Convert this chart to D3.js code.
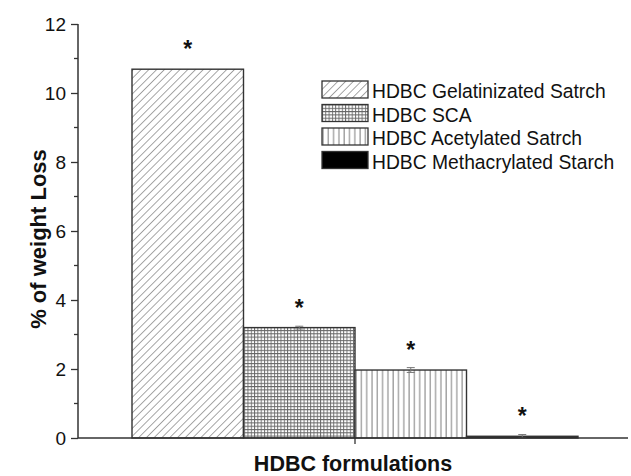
<!DOCTYPE html>
<html>
<head>
<meta charset="utf-8">
<script src="https://cdn.jsdelivr.net/npm/d3@7"></script>
<style>
  html, body { margin: 0; padding: 0; background: #fff; }
  svg { display: block; font-family: "Liberation Sans", Arial, sans-serif; }
</style>
</head>
<body>
<svg id="chart" width="631" height="476"></svg>
<script>
// Weight-loss results for the four HDBC formulations
const categories = [
  "HDBC Gelatinizated Satrch",
  "HDBC SCA",
  "HDBC Acetylated Satrch",
  "HDBC Methacrylated Starch"
];
const values = [10.69, 3.2, 1.97, 0.05];
const errors = [0.0, 0.04, 0.07, 0.05];
const significance = ["*", "*", "*", "*"];
const yTicks = [0, 2, 4, 6, 8, 10, 12];
const yMinorTicks = [1, 3, 5, 7, 9, 11];
const patternIds = ["hatch-diag", "hatch-grid", "hatch-vert", "solid-black"];

const svg = d3.select("#chart");
const axisLeft = 78, axisRight = 628, axisTop = 24, axisBottom = 438;

const x = d3.scaleBand().domain(categories).range([132, 578]).paddingInner(0).paddingOuter(0);
const y = d3.scaleLinear().domain([0, 12]).range([axisBottom, axisTop]);

// Fill patterns
const defs = svg.append("defs");
const diag = defs.append("pattern").attr("id", "hatch-diag")
  .attr("patternUnits", "userSpaceOnUse").attr("width", 5.5).attr("height", 5.5)
  .attr("patternTransform", "rotate(45)");
diag.append("rect").attr("width", 5.5).attr("height", 5.5).attr("fill", "#fff");
diag.append("line").attr("x1", 0).attr("y1", 0).attr("x2", 0).attr("y2", 5.5)
  .attr("stroke", "#777").attr("stroke-width", 1.3);

const grid = defs.append("pattern").attr("id", "hatch-grid")
  .attr("patternUnits", "userSpaceOnUse").attr("width", 3.3).attr("height", 3.3);
grid.append("rect").attr("width", 3.3).attr("height", 3.3).attr("fill", "#fff");
grid.append("path").attr("d", "M0,0.5H3.3M0.5,0V3.3")
  .attr("stroke", "#666").attr("stroke-width", 0.9).attr("fill", "none");

const vert = defs.append("pattern").attr("id", "hatch-vert")
  .attr("patternUnits", "userSpaceOnUse").attr("width", 5.3).attr("height", 10);
vert.append("rect").attr("width", 5.3).attr("height", 10).attr("fill", "#fff");
vert.append("line").attr("x1", 1).attr("y1", 0).attr("x2", 1).attr("y2", 10)
  .attr("stroke", "#888").attr("stroke-width", 1.1);

const fillFor = i => i === 3 ? "#000" : `url(#${patternIds[i]})`;

// Bars
svg.append("g").selectAll("rect").data(categories).join("rect")
  .attr("x", d => x(d))
  .attr("y", (d, i) => y(values[i]))
  .attr("width", x.bandwidth())
  .attr("height", (d, i) => y(0) - y(values[i]))
  .attr("fill", (d, i) => fillFor(i))
  .attr("stroke", "#333")
  .attr("stroke-width", 1.4);

// Error bars
const eb = svg.append("g").attr("stroke", "#777").attr("stroke-width", 1);
categories.forEach((c, i) => {
  if (!errors[i]) return;
  const cx = x(c) + x.bandwidth() / 2;
  const y1 = y(values[i] + errors[i]), y0 = y(values[i] - errors[i]);
  eb.append("line").attr("x1", cx).attr("x2", cx).attr("y1", y1).attr("y2", y0);
  eb.append("line").attr("x1", cx - 4).attr("x2", cx + 4).attr("y1", y1).attr("y2", y1);
  eb.append("line").attr("x1", cx - 4).attr("x2", cx + 4).attr("y1", y0).attr("y2", y0);
});

// Significance markers
svg.append("g").selectAll("text").data(categories).join("text")
  .attr("x", d => x(d) + x.bandwidth() / 2)
  .attr("y", (d, i) => y(values[i]) - 25 + 13)
  .attr("text-anchor", "middle")
  .attr("font-size", 23)
  .attr("font-weight", "bold")
  .attr("fill", "#111")
  .text((d, i) => significance[i]);

// Y axis
const yAxis = svg.append("g").attr("transform", `translate(${axisLeft},0)`)
  .call(d3.axisLeft(y).tickValues(yTicks).tickSize(7).tickPadding(5).tickFormat(d3.format("d")));
yAxis.attr("font-size", null).attr("font-family", null);
yAxis.select(".domain").attr("d", `M0,${axisTop}V${axisBottom}`).attr("stroke", "#333").attr("stroke-width", 1.5);
yAxis.selectAll(".tick line").attr("stroke", "#333").attr("stroke-width", 1.3);
yAxis.selectAll(".tick text").attr("font-size", 19).attr("fill", "#111").attr("dy", "0.35em");
svg.append("g").attr("transform", `translate(${axisLeft},0)`)
  .selectAll("line").data(yMinorTicks).join("line")
  .attr("x1", -4).attr("x2", 0).attr("y1", d => y(d)).attr("y2", d => y(d))
  .attr("stroke", "#333").attr("stroke-width", 1.3);

// X axis
svg.append("line").attr("x1", axisLeft).attr("x2", axisRight)
  .attr("y1", axisBottom).attr("y2", axisBottom)
  .attr("stroke", "#333").attr("stroke-width", 1.5);
const xMid = (x(categories[0]) + x(categories[3]) + x.bandwidth()) / 2;
svg.append("line").attr("x1", xMid).attr("x2", xMid)
  .attr("y1", axisBottom).attr("y2", axisBottom + 6)
  .attr("stroke", "#333").attr("stroke-width", 1.3);

// Axis titles
svg.append("text")
  .attr("x", xMid - 2).attr("y", 471)
  .attr("text-anchor", "middle").attr("font-size", 21.5).attr("font-weight", "bold")
  .attr("fill", "#111").text("HDBC formulations");
svg.append("text")
  .attr("transform", `translate(46,${(axisTop + axisBottom) / 2 + 8}) rotate(-90)`)
  .attr("text-anchor", "middle").attr("font-size", 22).attr("font-weight", "bold")
  .attr("fill", "#111").text("% of weight Loss");

// Legend
const legend = svg.append("g").attr("transform", "translate(322,81)");
const item = legend.selectAll("g").data(categories).join("g")
  .attr("transform", (d, i) => `translate(0,${i * 23.5})`);
item.append("rect").attr("width", 46).attr("height", 17)
  .attr("fill", (d, i) => fillFor(i)).attr("stroke", "#333").attr("stroke-width", 1.3);
item.append("text").attr("x", 50).attr("y", 17.3)
  .attr("font-size", 19.3).attr("fill", "#111").text(d => d);
</script>
</body>
</html>
